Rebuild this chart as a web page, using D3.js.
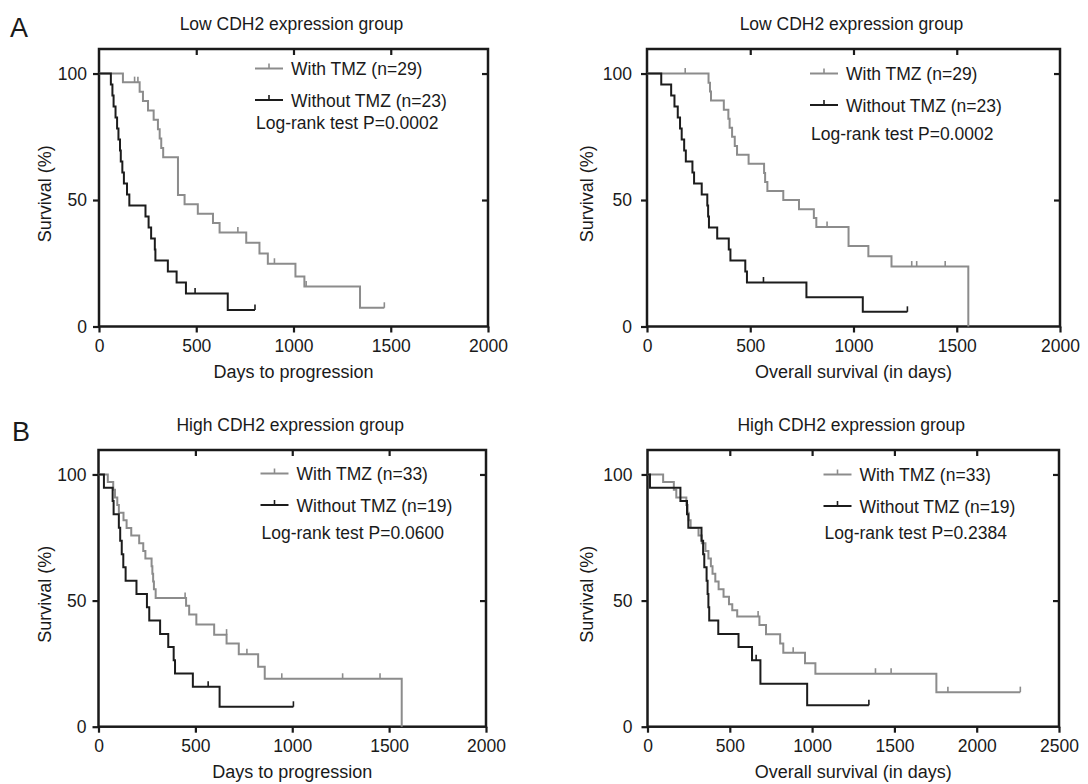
<!DOCTYPE html>
<html>
<head>
<meta charset="utf-8">
<script src="https://cdn.jsdelivr.net/npm/d3@7"></script>
<style>
  body { margin: 0; background: #fff; }
  svg { display: block; font-family: "Liberation Sans", Arial, Helvetica, sans-serif; }
</style>
</head>
<body>
<div id="chart"></div>
<script>
// Kaplan-Meier steps: [day, survival %]
// A, left: days to progression, low CDH2
const lowPfsWith = [[0,100],[123,96.6],[209,92.8],[226,89.1],[252,85.4],[281,81.7],[303,78.0],[312,74.3],[320,70.6],[330,66.9],[406,52.0],[440,48.3],[508,44.6],[586,40.9],[620,37.2],[757,33.1],[825,28.9],[868,24.8],[1010,19.8],[1056,15.8],[1342,7.4],[1467,7.4]];
const lowPfsWithCens = [[183,96.6],[200,96.6],[714,37.2],[902,24.8],[1065,15.8],[1467,7.4]];
const lowPfsWithout = [[0,100],[61,95.7],[69,91.3],[75,87.0],[85,82.6],[93,78.3],[100,73.9],[108,69.6],[112,65.2],[120,60.9],[128,56.5],[144,52.2],[156,47.8],[239,43.5],[255,39.1],[268,34.8],[287,30.4],[290,26.1],[354,21.7],[399,17.4],[447,13.0],[662,6.5],[802,6.5]];
const lowPfsWithoutCens = [[494,13.0],[802,6.5]];

// A, right: overall survival, low CDH2
const lowOsWith = [[0,100],[298,96.4],[305,92.9],[310,89.3],[372,85.7],[394,82.1],[400,78.6],[412,75.0],[425,71.4],[436,67.9],[492,64.3],[567,60.7],[572,57.1],[583,53.6],[660,50.0],[736,46.4],[808,42.9],[820,39.3],[976,31.8],[1072,27.8],[1184,23.7],[1556,0]];
const lowOsWithCens = [[185,100],[872,39.3],[1282,23.7],[1306,23.7],[1444,23.7]];
const lowOsWithout = [[0,100],[69,95.7],[117,91.3],[133,87.0],[149,82.6],[160,78.3],[168,73.9],[180,69.6],[188,65.2],[220,60.9],[228,56.5],[265,52.2],[292,47.8],[296,43.5],[300,39.1],[340,34.8],[396,30.4],[404,26.1],[476,21.7],[484,17.4],[772,11.6],[1045,5.8],[1261,5.8]];
const lowOsWithoutCens = [[564,17.4],[1261,5.8]];

// B, left: days to progression, high CDH2
const highPfsWith = [[0,100],[48,97.0],[76,93.9],[85,90.9],[97,87.9],[105,84.8],[129,81.8],[145,78.8],[169,75.8],[210,72.7],[231,69.7],[242,66.7],[274,63.6],[278,60.6],[282,57.6],[286,54.5],[295,51.0],[452,48.0],[468,44.5],[505,40.5],[597,36.5],[661,33.0],[724,28.7],[824,23.8],[858,19.0],[1565,0]];
const highPfsWithCens = [[447,51.0],[661,36.5],[766,28.7],[946,19.0],[1260,19.0],[1453,19.0]];
const highPfsWithout = [[0,100],[28,94.7],[73,89.5],[78,84.2],[105,78.9],[112,73.7],[120,68.4],[128,63.2],[140,57.9],[196,52.6],[250,47.4],[262,42.1],[318,36.8],[360,31.6],[388,26.3],[395,21.1],[487,15.8],[625,7.9],[1006,7.9]];
const highPfsWithoutCens = [[566,15.8],[1006,7.9]];

// B, right: overall survival, high CDH2
const highOsWith = [[0,100],[95,97.0],[160,93.9],[175,90.9],[236,87.9],[244,84.8],[250,81.8],[262,78.8],[310,75.8],[330,72.7],[352,69.7],[370,66.7],[385,63.6],[395,60.6],[412,57.6],[432,54.5],[462,51.5],[495,48.5],[515,46.2],[545,43.7],[680,40.3],[720,36.7],[806,33.0],[825,29.3],[957,25.2],[1020,21.0],[1755,13.7],[2265,13.7]];
const highOsWithCens = [[672,43.7],[885,29.3],[1385,21.0],[1480,21.0],[1825,13.7],[2265,13.7]];
const highOsWithout = [[0,100],[15,94.7],[200,89.5],[240,84.2],[248,78.9],[328,73.7],[338,68.4],[345,63.2],[359,57.9],[365,52.6],[370,47.4],[375,42.1],[430,36.8],[553,31.6],[635,26.3],[686,17.0],[970,8.5],[1345,8.5]];
const highOsWithoutCens = [[660,26.3],[1345,8.5]];

const panelTitles = ["Low CDH2 expression group", "Low CDH2 expression group", "High CDH2 expression group", "High CDH2 expression group"];
const xLabels = ["Days to progression", "Overall survival (in days)", "Days to progression", "Overall survival (in days)"];
const yLabel = "Survival (%)";
const xTickValues = [[0,500,1000,1500,2000], [0,500,1000,1500,2000], [0,500,1000,1500,2000], [0,500,1000,1500,2000,2500]];
const yTickValues = [0, 50, 100];
const legendWith = ["With TMZ (n=29)", "With TMZ (n=29)", "With TMZ (n=33)", "With TMZ (n=33)"];
const legendWithout = ["Without TMZ (n=23)", "Without TMZ (n=23)", "Without TMZ (n=19)", "Without TMZ (n=19)"];
const pTexts = ["Log-rank test P=0.0002", "Log-rank test P=0.0002", "Log-rank test P=0.0600", "Log-rank test P=0.2384"];
const panelLetters = ["A", "B"];

const curves = [
    [lowPfsWith, lowPfsWithCens, lowPfsWithout, lowPfsWithoutCens],
    [lowOsWith, lowOsWithCens, lowOsWithout, lowOsWithoutCens],
    [highPfsWith, highPfsWithCens, highPfsWithout, highPfsWithoutCens],
    [highOsWith, highOsWithCens, highOsWithout, highOsWithoutCens]
];

// layout of each plot box (pixels)
const frames = [
    { left: 99,  right: 488,  top: 49,  bottom: 326.5, yLabelDx: 54, yPad: 6, lgX: 156, lgY: 19.5, lgP: 60 },
    { left: 647, right: 1060, top: 49,  bottom: 326.5, yLabelDx: 60, yPad: 9, lgX: 163, lgY: 24.5, lgP: 66 },
    { left: 98.5, right: 486, top: 450, bottom: 726.7, yLabelDx: 54, yPad: 6, lgX: 162, lgY: 23.5, lgP: 65 },
    { left: 647.5, right: 1059, top: 450, bottom: 726.7, yLabelDx: 61, yPad: 9, lgX: 176, lgY: 24.5, lgP: 64 }
];

const GRAY = "#8c8c8c";
const BLACK = "#1c1c1c";
const INK = "#1a1a1a";
const FS = "17.5px";

const svg = d3.select("#chart").append("svg")
    .attr("width", 1088)
    .attr("height", 784);

svg.append("rect").attr("width", 1088).attr("height", 784).attr("fill", "#fff");

// panel letters
svg.append("text").attr("x", 10).attr("y", 37).style("font-size", "27px").style("fill", INK).text(panelLetters[0]);
svg.append("text").attr("x", 12).attr("y", 441).style("font-size", "27px").style("fill", INK).text(panelLetters[1]);

function drawPanel(i) {
    const f = frames[i];
    const ticks = xTickValues[i];
    const xMax = ticks[ticks.length - 1];
    const x = d3.scaleLinear().domain([0, xMax]).range([f.left, f.right]);
    const y = d3.scaleLinear().domain([0, 109.7]).range([f.bottom, f.top]);
    const g = svg.append("g");

    // title
    g.append("text")
        .attr("x", (f.left + f.right) / 2 - 2)
        .attr("y", f.top - 19)
        .attr("text-anchor", "middle")
        .style("font-size", FS)
        .style("fill", INK)
        .text(panelTitles[i]);

    // axes
    const bottomAxis = g.append("g")
        .attr("transform", `translate(0,${f.bottom})`)
        .call(d3.axisBottom(x).tickValues(ticks).tickSize(6).tickPadding(7).tickFormat(d3.format("d")));
    const leftAxis = g.append("g")
        .attr("transform", `translate(${f.left},0)`)
        .call(d3.axisLeft(y).tickValues(yTickValues).tickSize(6).tickPadding(f.yPad).tickFormat(d3.format("d")));
    // inner ticks on top and right edges
    const topAxis = g.append("g")
        .attr("transform", `translate(0,${f.top})`)
        .call(d3.axisBottom(x).tickValues(ticks.slice(1, -1)).tickSize(6).tickFormat(""));
    const rightAxis = g.append("g")
        .attr("transform", `translate(${f.right},0)`)
        .call(d3.axisLeft(y).tickValues([50, 100]).tickSize(6).tickFormat(""));

    [bottomAxis, leftAxis, topAxis, rightAxis].forEach(a => {
        a.select(".domain").remove();
        a.selectAll("line").attr("stroke", INK).attr("stroke-width", 2.2);
        a.selectAll("text").style("font-size", FS).style("fill", INK)
            .style("font-family", "'Liberation Sans', Arial, sans-serif");
    });

    // frame
    g.append("rect")
        .attr("x", f.left)
        .attr("y", f.top)
        .attr("width", f.right - f.left)
        .attr("height", f.bottom - f.top)
        .attr("fill", "none")
        .attr("stroke", INK)
        .attr("stroke-width", 2.5);

    // axis labels
    g.append("text")
        .attr("x", (f.left + f.right) / 2)
        .attr("y", f.bottom + 51)
        .attr("text-anchor", "middle")
        .style("font-size", "18px")
        .style("fill", INK)
        .text(xLabels[i]);

    g.append("text")
        .attr("transform", `translate(${f.left - f.yLabelDx},${(f.top + f.bottom) / 2 + 6}) rotate(-90)`)
        .attr("text-anchor", "middle")
        .attr("dy", "0.35em")
        .style("font-size", "18px")
        .style("fill", INK)
        .text(yLabel);

    // curves
    const line = d3.line()
        .x(d => x(d[0]))
        .y(d => y(d[1]))
        .curve(d3.curveStepAfter);

    const [withC, withCens, withoutC, withoutCens] = curves[i];
    const groups = [
        { pts: withC, cens: withCens, color: GRAY },
        { pts: withoutC, cens: withoutCens, color: BLACK }
    ];

    groups.forEach(s => {
        g.append("path")
            .datum(s.pts)
            .attr("d", line)
            .attr("fill", "none")
            .attr("stroke", s.color)
            .attr("stroke-width", 2);

        g.selectAll(null)
            .data(s.cens)
            .enter().append("line")
            .attr("x1", d => x(d[0]))
            .attr("x2", d => x(d[0]))
            .attr("y1", d => y(d[1]))
            .attr("y2", d => y(d[1]) - 5.5)
            .attr("stroke", s.color)
            .attr("stroke-width", 1.6);
    });

    // legend
    const lg = g.append("g").attr("transform", `translate(${f.left + f.lgX},${f.top + f.lgY})`);
    const rows = [
        { label: legendWith[i], color: GRAY },
        { label: legendWithout[i], color: BLACK }
    ];
    rows.forEach((r, k) => {
        const yy = k * 31.5;
        lg.append("line")
            .attr("x1", 0).attr("x2", 28)
            .attr("y1", yy).attr("y2", yy)
            .attr("stroke", r.color).attr("stroke-width", 2);
        lg.append("line")
            .attr("x1", 14).attr("x2", 14)
            .attr("y1", yy).attr("y2", yy - 5)
            .attr("stroke", r.color).attr("stroke-width", 1.6);
        lg.append("text")
            .attr("x", 36)
            .attr("y", yy + 6.5)
            .style("font-size", FS)
            .style("fill", INK)
            .text(r.label);
    });
    lg.append("text")
        .attr("x", 1)
        .attr("y", f.lgP)
        .style("font-size", FS)
        .style("fill", INK)
        .text(pTexts[i]);
}

[0, 1, 2, 3].forEach(drawPanel);
</script>
</body>
</html>
